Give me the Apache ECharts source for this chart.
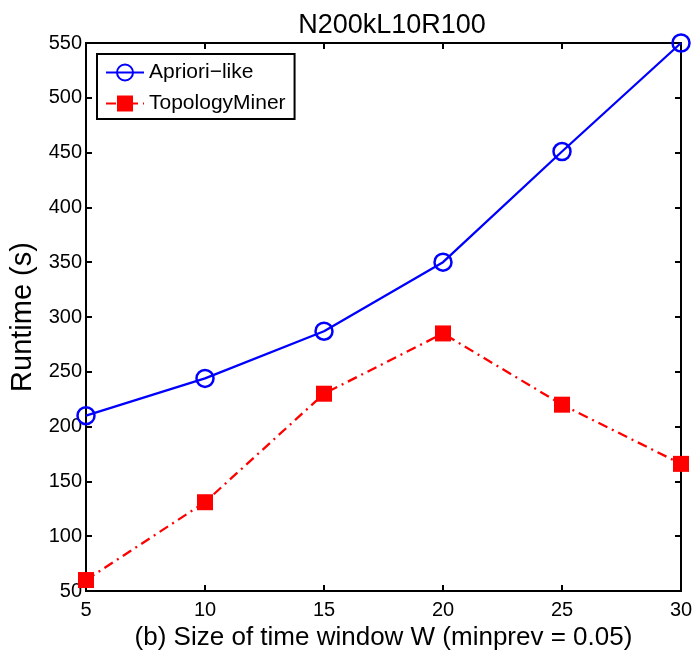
<!DOCTYPE html>
<html><head><meta charset="utf-8">
<script src="https://cdn.jsdelivr.net/npm/echarts@6/dist/echarts.min.js"></script>
<style>html,body{margin:0;padding:0;background:#fff}#c{width:696px;height:660px}</style>
</head><body><div id="c"></div>
<script>
const windowSizes = [5, 10, 15, 20, 25, 30];
const aprioriLike = [210, 244, 287, 350, 451, 550];
const topologyMiner = [60, 131, 230, 285, 220, 166];
const seriesNames = ['Apriori\u2212like', 'TopologyMiner'];
const titleText = 'N200kL10R100';
const xLabel = '(b) Size of time window W (minprev = 0.05)';
const yLabel = 'Runtime (s)';

const F = 'Liberation Sans, Arial, Helvetica, sans-serif';
const chart = echarts.init(document.getElementById('c'));
const pair = (xs, ys) => xs.map((x, i) => [x, ys[i]]);
const tickStyle = {show: true, inside: true, length: 6, lineStyle: {color: '#000', width: 2}};
chart.setOption({
  animation: false,
  title: {text: titleText, left: 387, textAlign: 'center', top: 7, textStyle: {fontFamily: F, fontSize: 27, fontWeight: 'normal', color: '#000'}},
  grid: {left: 86, right: 15, top: 43, bottom: 69, show: true, borderColor: '#000', borderWidth: 2},
  legend: {
    orient: 'vertical', left: 97, top: 54,
    backgroundColor: '#fff', borderColor: '#000', borderWidth: 2, borderRadius: 0,
    padding: [8, 9, 5, 8], itemGap: 10, itemWidth: 38, itemHeight: 20,
    textStyle: {fontFamily: F, fontSize: 21, color: '#000'},
    data: seriesNames
  },
  xAxis: [
    {type: 'value', min: 5, max: 30, interval: 5, position: 'bottom',
     name: xLabel, nameLocation: 'middle', nameGap: 34, nameTextStyle: {fontFamily: F, fontSize: 26, color: '#000'},
     axisLine: {show: true, lineStyle: {color: '#000', width: 2}}, axisTick: tickStyle,
     axisLabel: {fontFamily: F, fontSize: 20, color: '#000', margin: 9}, splitLine: {show: false}},
    {type: 'value', min: 5, max: 30, interval: 5, position: 'top',
     axisLine: {show: true, lineStyle: {color: '#000', width: 2}}, axisTick: tickStyle,
     axisLabel: {show: false}, splitLine: {show: false}}
  ],
  yAxis: [
    {type: 'value', min: 50, max: 550, interval: 50, position: 'left',
     name: yLabel, nameLocation: 'middle', nameGap: 48, nameTextStyle: {fontFamily: F, fontSize: 29, color: '#000'},
     axisLine: {show: true, lineStyle: {color: '#000', width: 2}}, axisTick: tickStyle,
     axisLabel: {fontFamily: F, fontSize: 20, color: '#000', margin: 4}, splitLine: {show: false}},
    {type: 'value', min: 50, max: 550, interval: 50, position: 'right',
     axisLine: {show: true, lineStyle: {color: '#000', width: 2}}, axisTick: tickStyle,
     axisLabel: {show: false}, splitLine: {show: false}}
  ],
  series: [
    {name: seriesNames[0], type: 'line', data: pair(windowSizes, aprioriLike),
     symbol: 'circle', symbolSize: 17, showAllSymbol: true,
     itemStyle: {color: 'rgba(255,255,255,0)', borderColor: '#0000ff', borderWidth: 2.5},
     lineStyle: {color: '#0000ff', width: 2.3}, z: 3},
    {name: seriesNames[1], type: 'line', data: pair(windowSizes, topologyMiner),
     symbol: 'rect', symbolSize: 16, showAllSymbol: true,
     itemStyle: {color: '#ff0000', borderColor: '#ff0000', borderWidth: 0},
     lineStyle: {color: '#ff0000', width: 2.3, type: [10, 5, 2, 5]}, z: 2}
  ]
});
</script></body></html>
